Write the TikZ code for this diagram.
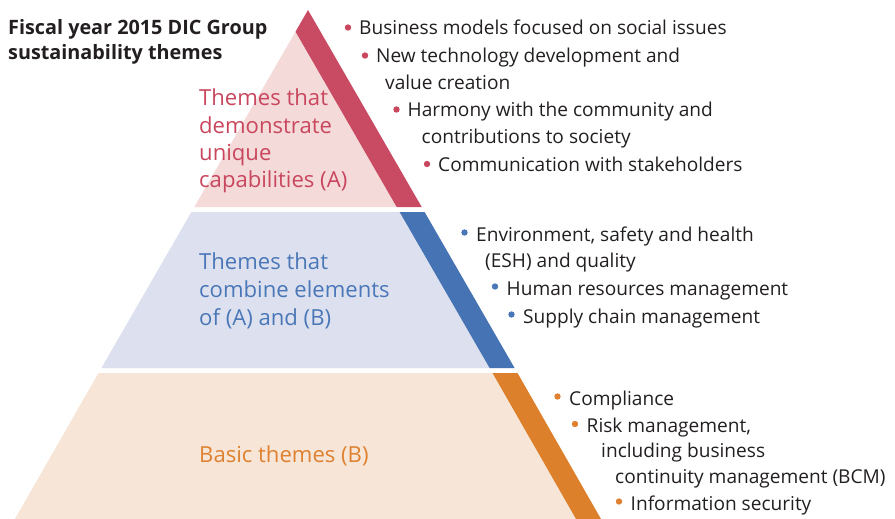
\documentclass[tikz,border=0pt]{standalone}
\usepackage{fontspec}
\setmainfont{Open Sans}
\begin{document}
\definecolor{rband}{HTML}{C94B63}
\definecolor{rfill}{HTML}{F4DAD8}
\definecolor{rtext}{HTML}{C9475E}
\definecolor{bband}{HTML}{4673B3}
\definecolor{bfill}{HTML}{DDE1EF}
\definecolor{btext}{HTML}{4A77B7}
\definecolor{oband}{HTML}{DD802C}
\definecolor{ofill}{HTML}{F7E6D7}
\definecolor{otext}{HTML}{DE8130}
\definecolor{dark}{HTML}{231F20}
\begin{tikzpicture}[x=1pt,y=-1pt,
  item/.style={anchor=base west,inner sep=0pt,text=dark,font=\fontsize{19.1}{22}\selectfont},
  lbl/.style={anchor=base west,inner sep=0pt,font=\fontsize{22.1}{26}\selectfont},
  ttl/.style={anchor=base west,inner sep=0pt,text=dark,font=\bfseries\fontsize{19.8}{22}\selectfont}]
\useasboundingbox (0,0) rectangle (895,519);
% top section
\fill[rfill] (295.5,31.7) -- (194.3,207) -- (396.7,207) -- cycle;
\fill[rband] (308,10) -- (421.7,207) -- (396.7,207) -- (295.5,31.7) -- cycle;
% middle section
\fill[bfill] (191.4,212) -- (101.4,368) -- (489.6,368) -- (399.6,212) -- cycle;
\fill[bband] (399.6,212) -- (424.6,212) -- (514.6,368) -- (489.6,368) -- cycle;
% bottom section
\fill[ofill] (98.5,373) -- (14.9,519) -- (576,519) -- (492.5,373) -- cycle;
\fill[oband] (492.5,373) -- (517.5,373) -- (601,519) -- (576,519) -- cycle;
% title
\node[ttl] (t1) at (8,35) {Fiscal year 2015 DIC Group};
\node[ttl] (t2) at (8,60) {sustainability themes};
% labels
\node[lbl,text=rtext] (la1) at (199,106) {Themes that};
\node[lbl,text=rtext] (la2) at (199,133) {demonstrate};
\node[lbl,text=rtext] (la3) at (199,160) {unique};
\node[lbl,text=rtext] (la4) at (199,187) {capabilities (A)};
\node[lbl,text=btext] (lb1) at (199,269) {Themes that};
\node[lbl,text=btext] (lb2) at (199,297) {combine elements};
\node[lbl,text=btext] (lb3) at (199,325) {of (A) and (B)};
\node[lbl,text=otext] (lc1) at (199,462) {Basic themes (B)};
% top items
\node[item] (a1) at (359,35) {Business models focused on social issues};
\node[item] (a2) at (376,63) {New technology development and};
\node[item] (a2b) at (385,89) {value creation};
\node[item] (a3) at (407.5,117) {Harmony with the community and};
\node[item] (a3b) at (421.5,143) {contributions to society};
\node[item] (a4) at (438,171.5) {Communication with stakeholders};
\foreach \n in {a1,a2,a3,a4}
  \fill[rtext] ([xshift=-11pt,yshift=7.5pt]\n.base west) circle (3.2pt);
% middle items
\node[item] (b1) at (476,241) {Environment, safety and health};
\node[item] (b1b) at (485,267.5) {(ESH) and quality};
\node[item] (b2) at (506.5,295) {Human resources management};
\node[item] (b3) at (523,323) {Supply chain management};
\foreach \n in {b1,b2,b3}
  \fill[btext] ([xshift=-11.5pt,yshift=8.5pt]\n.base west) circle (3.2pt);
% bottom items
\node[item] (c1) at (569,405) {Compliance};
\node[item] (c2) at (586.5,432.5) {Risk management,};
\node[item] (c2b) at (601,457.5) {including business};
\node[item] (c2c) at (615,483) {continuity management (BCM)};
\node[item] (c3) at (630.5,510) {Information security};
\foreach \n in {c1,c2,c3}
  \fill[otext] ([xshift=-11.5pt,yshift=8.5pt]\n.base west) circle (3.2pt);
\end{tikzpicture}
\end{document}
